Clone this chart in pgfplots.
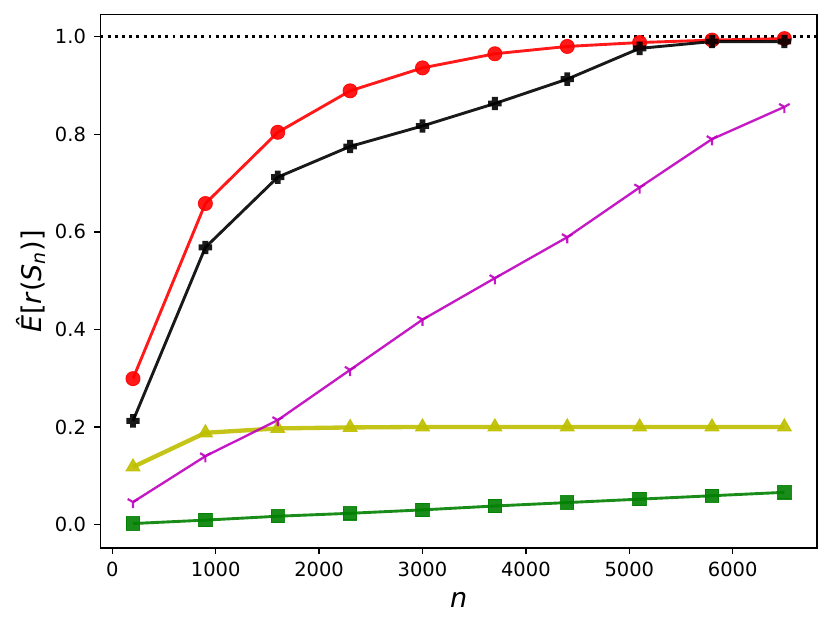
\documentclass[border=0pt]{standalone}
\usepackage{pgfplots}
\pgfplotsset{compat=1.18}
\usepackage{fontspec}
\setmainfont{DejaVu Sans}
\definecolor{mplr}{rgb}{1,0,0}
\definecolor{mplk}{rgb}{0,0,0}
\definecolor{mplm}{rgb}{0.75,0,0.75}
\definecolor{mply}{rgb}{0.75,0.75,0}
\definecolor{mplg}{rgb}{0,0.5,0}
\pgfdeclareplotmark{Pfill}{%
  \pgfpathrectangle{\pgfqpoint{-\pgfplotmarksize}{-0.44\pgfplotmarksize}}{\pgfqpoint{2\pgfplotmarksize}{0.88\pgfplotmarksize}}%
  \pgfpathrectangle{\pgfqpoint{-0.44\pgfplotmarksize}{-\pgfplotmarksize}}{\pgfqpoint{0.88\pgfplotmarksize}{2\pgfplotmarksize}}%
  \pgfusepathqfill}
\pgfdeclareplotmark{tridown}{%
  \pgfpathmoveto{\pgfqpoint{0pt}{0pt}}\pgfpathlineto{\pgfqpoint{0pt}{-\pgfplotmarksize}}%
  \pgfpathmoveto{\pgfqpoint{0pt}{0pt}}\pgfpathlineto{\pgfqpoint{-0.866\pgfplotmarksize}{0.5\pgfplotmarksize}}%
  \pgfpathmoveto{\pgfqpoint{0pt}{0pt}}\pgfpathlineto{\pgfqpoint{0.866\pgfplotmarksize}{0.5\pgfplotmarksize}}%
  \pgfusepathqstroke}
\begin{document}
\begin{tikzpicture}
\begin{axis}[
  scale only axis,
  width=397.4pt, height=296pt,
  xmin=-115, xmax=6815,
  ymin=-0.048, ymax=1.046,
  xtick={0,1000,2000,3000,4000,5000,6000},
  ytick={0,0.2,0.4,0.6,0.8,1.0},
  yticklabels={0.0,0.2,0.4,0.6,0.8,1.0},
  scaled x ticks=false,
  /pgf/number format/assume math mode=true,
  /pgf/number format/1000 sep={},
  tick align=outside,
  major tick length=3.5pt,
  tick style={line width=0.8pt, black},
  xtick pos=bottom, ytick pos=left,
  axis line style={line width=0.8pt},
  tick label style={font=\fontsize{10.8}{13}\selectfont},
  xticklabel style={yshift=-1pt},
  yticklabel style={xshift=-1pt},
  xlabel={\textit{n}},
  ylabel={\textit{Ê}[\textit{r}(\textit{S}\textsubscript{\textit{n}})]},
  label style={font=\fontsize{15}{18}\selectfont},
  xlabel style={at={(axis description cs:0.5,-0.1125)}, anchor=base},
  ylabel style={at={(axis description cs:-0.082,0.5)}, anchor=base},
  clip=false,
]
\addplot[black, line width=1.6pt, dash pattern=on 1.6pt off 2.4pt, forget plot] coordinates {(-115,1) (6815,1)};
\addplot[mply, opacity=0.9, line width=2.4pt, mark=triangle*, mark size=4.4pt, mark options={solid, line width=0.6pt}] coordinates {
(200,0.118) (900,0.188) (1600,0.197) (2300,0.199) (3000,0.200) (3700,0.200) (4400,0.200) (5100,0.200) (5800,0.200) (6500,0.200)};
\addplot[mplm, opacity=0.9, line width=1.3pt, mark=tridown, mark size=3.4pt, mark options={line width=1.2pt}] coordinates {
(200,0.046) (900,0.140) (1600,0.214) (2300,0.317) (3000,0.420) (3700,0.505) (4400,0.589) (5100,0.691) (5800,0.790) (6500,0.856)};
\addplot[mplr, opacity=0.9, line width=1.6pt, mark=*, mark size=3.9pt, mark options={draw=mplr, fill=mplr, line width=0.5pt}] coordinates {
(200,0.299) (900,0.658) (1600,0.804) (2300,0.889) (3000,0.936) (3700,0.965) (4400,0.980) (5100,0.988) (5800,0.993) (6500,0.996)};
\addplot[mplk, opacity=0.9, line width=1.6pt, mark=Pfill, mark size=3.7pt] coordinates {
(200,0.2125) (900,0.568) (1600,0.712) (2300,0.775) (3000,0.817) (3700,0.863) (4400,0.913) (5100,0.976) (5800,0.990) (6500,0.990)};
\addplot[mplg, opacity=0.9, line width=1.6pt, mark=square*, mark size=3.7pt, mark options={line width=0.6pt}] coordinates {
(200,0.002) (900,0.009) (1600,0.017) (2300,0.023) (3000,0.030) (3700,0.038) (4400,0.045) (5100,0.052) (5800,0.059) (6500,0.066)};
\coordinate (sw) at (rel axis cs:0,0);
\end{axis}
\pgfresetboundingbox
\path (sw) ++(-55.7pt,-44.4pt) rectangle ++(460.9pt,348.3pt);
\end{tikzpicture}
\end{document}
